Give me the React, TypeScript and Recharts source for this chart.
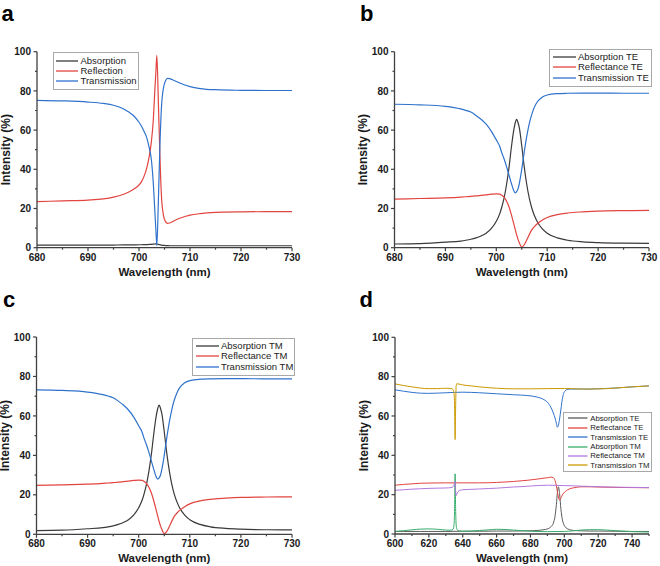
import React from 'react';
import { LineChart, Line, XAxis, YAxis, Legend } from 'recharts';

const FONT = '"Liberation Sans", Arial, sans-serif';
const AXIS = '#404040';
const C_BLACK = '#3a3a3a';
const C_RED = '#e2443f';
const C_BLUE = '#2f72cc';
const C_GREEN = '#37ad6b';
const C_PURPLE = '#b177de';
const C_GOLD = '#cc9900';

// panel a
const wlA = [680, 685, 690, 693, 695, 697, 698, 699, 700, 700.5, 701, 701.5, 702, 702.4, 702.8, 703.1, 703.3, 703.5, 703.8, 704.1, 704.4, 704.8, 705.2, 705.6, 706, 707, 708, 710, 712, 715, 720, 725, 730];
const absA = [1.3, 1.3, 1.3, 1.3, 1.35, 1.4, 1.4, 1.45, 1.5, 1.5, 1.55, 1.6, 1.65, 1.7, 1.8, 1.9, 1.95, 1.9, 1.7, 1.5, 1.3, 1.2, 1.1, 1.05, 1.0, 1.0, 1.0, 1.0, 1.0, 1.0, 1.0, 1.0, 1.0];
const reflA = [23.5, 23.9, 24.3, 24.9, 25.8, 27.3, 28.4, 29.9, 32.0, 33.7, 36.5, 40.5, 46.5, 53.5, 65.0, 80.0, 89.0, 98.2, 74.0, 47.0, 26.5, 16.5, 13.3, 12.4, 12.6, 13.9, 15.0, 16.6, 17.4, 18.0, 18.3, 18.4, 18.4];
const transA = [75.2, 74.9, 74.3, 73.6, 72.7, 70.8, 69.2, 67.2, 64.0, 62.0, 59.3, 56.3, 51.0, 45.5, 33.0, 19.0, 9.5, 1.0, 24.0, 52.0, 71.5, 81.5, 85.2, 86.4, 86.3, 85.2, 84.0, 82.2, 81.2, 80.6, 80.3, 80.2, 80.2];

// panel b (TE)
const wlB = [680, 685, 690, 693, 694, 695, 696, 697, 698, 699, 700, 700.7, 701, 701.5, 702, 702.5, 703, 703.4, 703.7, 704, 704.3, 704.5, 705, 705.5, 706, 706.5, 707, 707.5, 708, 709, 710, 712, 714, 717, 720, 725, 730];
const absTE = [1.9, 2.1, 2.8, 3.4, 3.8, 4.3, 5.0, 6.0, 7.4, 9.7, 13.5, 17.5, 20, 25, 32, 41, 52, 59.5, 63.5, 65.5, 63.5, 61.5, 52, 41, 32, 25, 20, 16.3, 13.5, 9.7, 7.4, 5.0, 3.8, 3.0, 2.6, 2.3, 2.2];
const reflTE = [24.8, 25.1, 25.4, 25.8, 26, 26.2, 26.4, 26.7, 27, 27.3, 27.5, 27.3, 26.9, 25.8, 23.8, 20.8, 16.5, 12.5, 9.5, 6.5, 4, 2.7, 0.3, 1.5, 4, 6.8, 9.2, 10.8, 12.1, 14, 15.4, 16.9, 17.7, 18.3, 18.7, 18.9, 19.0];
const transTE = [73.2, 72.9, 72.1, 70.8, 70.1, 69.2, 67.5, 65.5, 63, 59.5, 55, 51.5, 49, 45.5, 41.5, 37, 32.5, 29.3, 28, 28.6, 30.3, 32.5, 40, 49, 57, 63.5, 68.3, 71.8, 74.2, 76.8, 77.9, 78.6, 78.8, 78.9, 78.9, 78.8, 78.8];

// panel c (TM)
const wlC = [680, 685, 690, 693, 694, 695, 696, 697, 698, 699, 700, 700.7, 701, 701.5, 702, 702.5, 703, 703.4, 703.7, 704, 704.3, 704.5, 705, 705.5, 706, 706.5, 707, 707.5, 708, 709, 710, 712, 714, 717, 720, 725, 730];
const absTM = [1.9, 2.1, 2.8, 3.4, 3.8, 4.3, 5.0, 6.0, 7.4, 9.7, 13.5, 17.5, 20, 25, 32, 41, 52, 59.5, 63.5, 65.5, 63.5, 61.5, 52, 41, 32, 25, 20, 16.3, 13.5, 9.7, 7.4, 5.0, 3.8, 3.0, 2.6, 2.3, 2.2];
const reflTM = [24.8, 25.1, 25.4, 25.8, 26, 26.2, 26.4, 26.7, 27, 27.3, 27.5, 27.3, 26.9, 25.8, 23.8, 20.8, 16.5, 12.5, 9.5, 6.5, 4, 2.7, 0.3, 1.5, 4, 6.8, 9.2, 10.8, 12.1, 14, 15.4, 16.9, 17.7, 18.3, 18.7, 18.9, 19.0];
const transTM = [73.2, 72.9, 72.1, 70.8, 70.1, 69.2, 67.5, 65.5, 63, 59.5, 55, 51.5, 49, 45.5, 41.5, 37, 32.5, 29.3, 28, 28.6, 30.3, 32.5, 40, 49, 57, 63.5, 68.3, 71.8, 74.2, 76.8, 77.9, 78.6, 78.8, 78.9, 78.9, 78.8, 78.8];

// panel d, TE curves
const wlTED = [600, 605, 610, 615, 620, 630, 640, 650, 660, 670, 678, 684, 688, 690, 692, 693.5, 694.5, 695.3, 695.9, 696.5, 697.2, 698, 698.8, 699.6, 700.5, 702, 704, 707, 710, 715, 720, 730, 740, 750];
const absTED = [1.3, 1.3, 1.3, 1.3, 1.3, 1.3, 1.4, 1.4, 1.5, 1.5, 1.6, 1.8, 2.2, 2.6, 3.6, 5.5, 9, 15, 21, 24, 20.5, 12.5, 7.5, 5, 3.6, 2.6, 2.0, 1.7, 1.6, 1.5, 1.5, 1.4, 1.3, 1.3];
const reflTED = [24.8, 25.2, 25.5, 25.8, 25.9, 26.0, 26.0, 26.0, 26.2, 26.7, 27.3, 27.9, 28.4, 28.6, 28.9, 28.6, 27.2, 24.5, 21.5, 18.8, 17.3, 18.3, 19.8, 20.8, 21.6, 22.5, 23.2, 23.7, 24.0, 24.0, 23.9, 23.7, 23.6, 23.5];
const transTED = [73.3, 72.6, 72.0, 71.6, 71.5, 71.8, 72.1, 71.8, 71.3, 70.8, 70.4, 69.6, 68.3, 67.0, 64.5, 61.5, 59, 56.3, 54.3, 55.3, 58.5, 63.5, 68.5, 71.5, 72.8, 73.5, 73.7, 73.7, 73.7, 73.7, 73.8, 74.2, 74.8, 75.3];

// panel d, TM curves
const wlTMD = [600, 605, 610, 615, 620, 625, 630, 633, 634.3, 634.9, 635.2, 635.5, 635.8, 636.1, 636.5, 637.2, 638.5, 640, 645, 650, 655, 660, 665, 670, 675, 680, 690, 700, 705, 710, 715, 720, 725, 730, 740, 750];
const absTMD = [1.3, 1.7, 2.1, 2.5, 2.6, 2.4, 2.0, 1.9, 2.4, 5, 13, 30.6, 13, 5, 2.6, 1.8, 1.5, 1.4, 1.5, 1.8, 2.1, 2.4, 2.3, 2.0, 1.7, 1.4, 1.2, 1.3, 1.6, 2.0, 2.2, 2.2, 2.0, 1.7, 1.2, 1.0];
const reflTMD = [22.2, 22.5, 22.8, 23.0, 23.2, 23.3, 23.4, 23.6, 24.0, 25.0, 26.2, 26.8, 22, 19.5, 20.3, 21.5, 22.2, 22.5, 22.7, 22.9, 23.1, 23.3, 23.6, 23.9, 24.1, 24.4, 24.8, 24.6, 24.5, 24.3, 24.2, 24.0, 23.9, 23.8, 23.7, 23.6];
const transTMD = [76.3, 75.5, 74.8, 74.2, 73.9, 73.9, 74.1, 74.0, 73.4, 71.5, 64, 48, 64, 75, 76.4, 76.3, 76.1, 75.8, 75.3, 74.8, 74.4, 74.1, 73.9, 73.8, 73.8, 73.8, 73.9, 74.0, 73.9, 73.7, 73.7, 73.8, 73.9, 74.2, 74.8, 75.3];

// ticks
const xMajorNarrow = [680, 690, 700, 710, 720, 730];
const xMinorNarrow = [685, 695, 705, 715, 725];
const xMajorWide = [600, 620, 640, 660, 680, 700, 720, 740];
const xMinorWide = [610, 630, 650, 670, 690, 710, 730, 750];
const yMajor = [0, 20, 40, 60, 80, 100];
const yMinor = [10, 30, 50, 70, 90];

const rows = (wl: number[], v: number[]) => wl.map((w, i) => ({ wl: w, v: v[i] }));

function XTick(props: any) {
  const { x, y, payload, majors } = props;
  const major = majors.includes(payload.value);
  return (
    <g>
      <line x1={x} y1={y} x2={x} y2={y + (major ? 3.5 : 2)} stroke={AXIS} strokeWidth={1.2} />
      {major && (
        <text x={x} y={y + 6} dy="0.71em" textAnchor="middle" fontFamily={FONT} fontWeight="bold" fontSize={10} fill="#1a1a1a">
          {payload.value}
        </text>
      )}
    </g>
  );
}

function YTick(props: any) {
  const { x, y, payload } = props;
  const major = yMajor.includes(payload.value);
  return (
    <g>
      <line x1={x - (major ? 3.5 : 2)} y1={y} x2={x} y2={y} stroke={AXIS} strokeWidth={1.2} />
      {major && (
        <text x={x - 6} y={y} dy="0.36em" textAnchor="end" fontFamily={FONT} fontWeight="bold" fontSize={10} fill="#1a1a1a">
          {payload.value}
        </text>
      )}
    </g>
  );
}

const xTitle = (p: any) => {
  const vb = p.viewBox;
  return (
    <text x={vb.x + vb.width / 2} y={vb.y + 28} textAnchor="middle" fontFamily={FONT} fontWeight="bold" fontSize={11.5} fill="#1a1a1a">
      Wavelength (nm)
    </text>
  );
};

const yTitle = (p: any) => {
  const vb = p.viewBox;
  const bx = vb.x + vb.width - 27;
  const cy = vb.y + vb.height / 2;
  return (
    <text x={bx} y={cy} transform={`rotate(-90, ${bx}, ${cy})`} textAnchor="middle" fontFamily={FONT} fontWeight="bold" fontSize={12} fill="#1a1a1a">
      Intensity (%)
    </text>
  );
};

// legend keeps the order the series are listed in
function LegendBox({ payload, order, fontSize, rowH, lineLen, pad }: any) {
  const items = [...(payload || [])].sort((a: any, b: any) => order.indexOf(a.value) - order.indexOf(b.value));
  return (
    <div style={{ border: '1px solid #a8a8a8', background: '#fff', padding: pad, fontFamily: FONT, fontSize, color: '#222' }}>
      {items.map((e: any) => (
        <div key={e.value} style={{ display: 'flex', alignItems: 'center', height: rowH, lineHeight: `${rowH}px`, whiteSpace: 'nowrap' }}>
          <svg width={lineLen} height={4} style={{ marginRight: 2.5, flex: 'none' }}>
            <line x1={0} y1={2} x2={lineLen} y2={2} stroke={e.color} strokeWidth={1.3} />
          </svg>
          <span>{e.value}</span>
        </div>
      ))}
    </div>
  );
}

type Series = { name: string; color: string; wl: number[]; v: number[] };

function Panel(props: {
  left: number; top: number; margin: any; yWidth: number; xHeight: number;
  domain: [number, number]; xMajor: number[]; xMinor: number[];
  series: Series[]; legend: any; strokeWidth: number;
}) {
  const { left, top, margin, yWidth, xHeight, domain, xMajor, xMinor, series, legend, strokeWidth } = props;
  const xTicks = [...xMajor, ...xMinor].sort((a, b) => a - b);
  const yTicks = [...yMajor, ...yMinor].sort((a, b) => a - b);
  const order = series.map((s) => s.name);
  return (
    <div style={{ position: 'absolute', left, top }}>
      <LineChart width={330} height={283} margin={margin}>
        <XAxis
          dataKey="wl" type="number" domain={domain} allowDataOverflow ticks={xTicks} interval={0}
          height={xHeight} tickSize={0} tickMargin={0} tickLine={false}
          axisLine={{ stroke: AXIS, strokeWidth: 1.3 }}
          tick={(p: any) => <XTick {...p} majors={xMajor} />}
          label={xTitle}
        />
        <YAxis
          type="number" domain={[0, 100]} allowDataOverflow ticks={yTicks} interval={0}
          width={yWidth} tickSize={0} tickMargin={0} tickLine={false}
          axisLine={{ stroke: AXIS, strokeWidth: 1.3 }}
          tick={(p: any) => <YTick {...p} />}
          label={yTitle}
        />
        {series.map((s) => (
          <Line
            key={s.name} data={rows(s.wl, s.v)} dataKey="v" name={s.name} type="monotone"
            stroke={s.color} strokeWidth={strokeWidth} dot={false} activeDot={false} isAnimationActive={false}
          />
        ))}
        <Legend
          layout="vertical" align="center" verticalAlign="middle"
          wrapperStyle={{ left: legend.x, top: legend.y, width: 'auto', height: 'auto' }}
          content={(p: any) => <LegendBox payload={p.payload} order={order} {...legend} />}
        />
      </LineChart>
    </div>
  );
}

export default function App() {
  const letter = { fontFamily: FONT, fontWeight: 'bold', fontSize: 22, fill: '#000' } as any;
  return (
    <div style={{ position: 'absolute', left: 0, top: 0, width: 660, height: 566, background: '#fff' }}>
      <Panel
        left={0} top={0} margin={{ top: 51.7, right: 38, bottom: 0, left: 0 }} yWidth={37} xHeight={35.3}
        domain={[680, 730]} xMajor={xMajorNarrow} xMinor={xMinorNarrow} strokeWidth={1.2}
        legend={{ x: 53, y: 51.5, fontSize: 9.5, rowH: 10.3, lineLen: 22, pad: '3px 1px 3px 2px' }}
        series={[
          { name: 'Absorption', color: C_BLACK, wl: wlA, v: absA },
          { name: 'Reflection', color: C_RED, wl: wlA, v: reflA },
          { name: 'Transmission', color: C_BLUE, wl: wlA, v: transA },
        ]}
      />
      <Panel
        left={330} top={0} margin={{ top: 51.7, right: 11, bottom: 0, left: 0 }} yWidth={64.5} xHeight={35.3}
        domain={[680, 730]} xMajor={xMajorNarrow} xMinor={xMinorNarrow} strokeWidth={1.2}
        legend={{ x: 219, y: 49, fontSize: 9.5, rowH: 10.3, lineLen: 23, pad: '2px 2px 3px 2.5px' }}
        series={[
          { name: 'Absorption TE', color: C_BLACK, wl: wlB, v: absTE },
          { name: 'Reflectance TE', color: C_RED, wl: wlB, v: reflTE },
          { name: 'Transmission TE', color: C_BLUE, wl: wlB, v: transTE },
        ]}
      />
      <Panel
        left={0} top={283} margin={{ top: 54, right: 38, bottom: 0, left: 0 }} yWidth={36.5} xHeight={31.7}
        domain={[680, 730]} xMajor={xMajorNarrow} xMinor={xMinorNarrow} strokeWidth={1.2}
        legend={{ x: 192, y: 55, fontSize: 9.5, rowH: 10.3, lineLen: 23, pad: '2px 1px 3px 2.5px' }}
        series={[
          { name: 'Absorption TM', color: C_BLACK, wl: wlC, v: absTM },
          { name: 'Reflectance TM', color: C_RED, wl: wlC, v: reflTM },
          { name: 'Transmission TM', color: C_BLUE, wl: wlC, v: transTM },
        ]}
      />
      <Panel
        left={330} top={283} margin={{ top: 54.3, right: 11, bottom: 0, left: 0 }} yWidth={65} xHeight={32}
        domain={[600, 750]} xMajor={xMajorWide} xMinor={xMinorWide} strokeWidth={1}
        legend={{ x: 232.7, y: 129.3, fontSize: 7.8, rowH: 9.4, lineLen: 19.5, pad: '0.5px 1px 0.5px 4.5px' }}
        series={[
          { name: 'Absorption TE', color: '#5a5a5a', wl: wlTED, v: absTED },
          { name: 'Reflectance TE', color: C_RED, wl: wlTED, v: reflTED },
          { name: 'Transmission TE', color: C_BLUE, wl: wlTED, v: transTED },
          { name: 'Absorption TM', color: C_GREEN, wl: wlTMD, v: absTMD },
          { name: 'Reflectance TM', color: C_PURPLE, wl: wlTMD, v: reflTMD },
          { name: 'Transmission TM', color: C_GOLD, wl: wlTMD, v: transTMD },
        ]}
      />
      <svg width={660} height={566} style={{ position: 'absolute', left: 0, top: 0, pointerEvents: 'none' }}>
        <text x={1.5} y={20.7} {...letter}>a</text>
        <text x={360} y={20.7} {...letter}>b</text>
        <text x={3} y={307} {...letter}>c</text>
        <text x={359.5} y={307} {...letter}>d</text>
      </svg>
    </div>
  );
}
